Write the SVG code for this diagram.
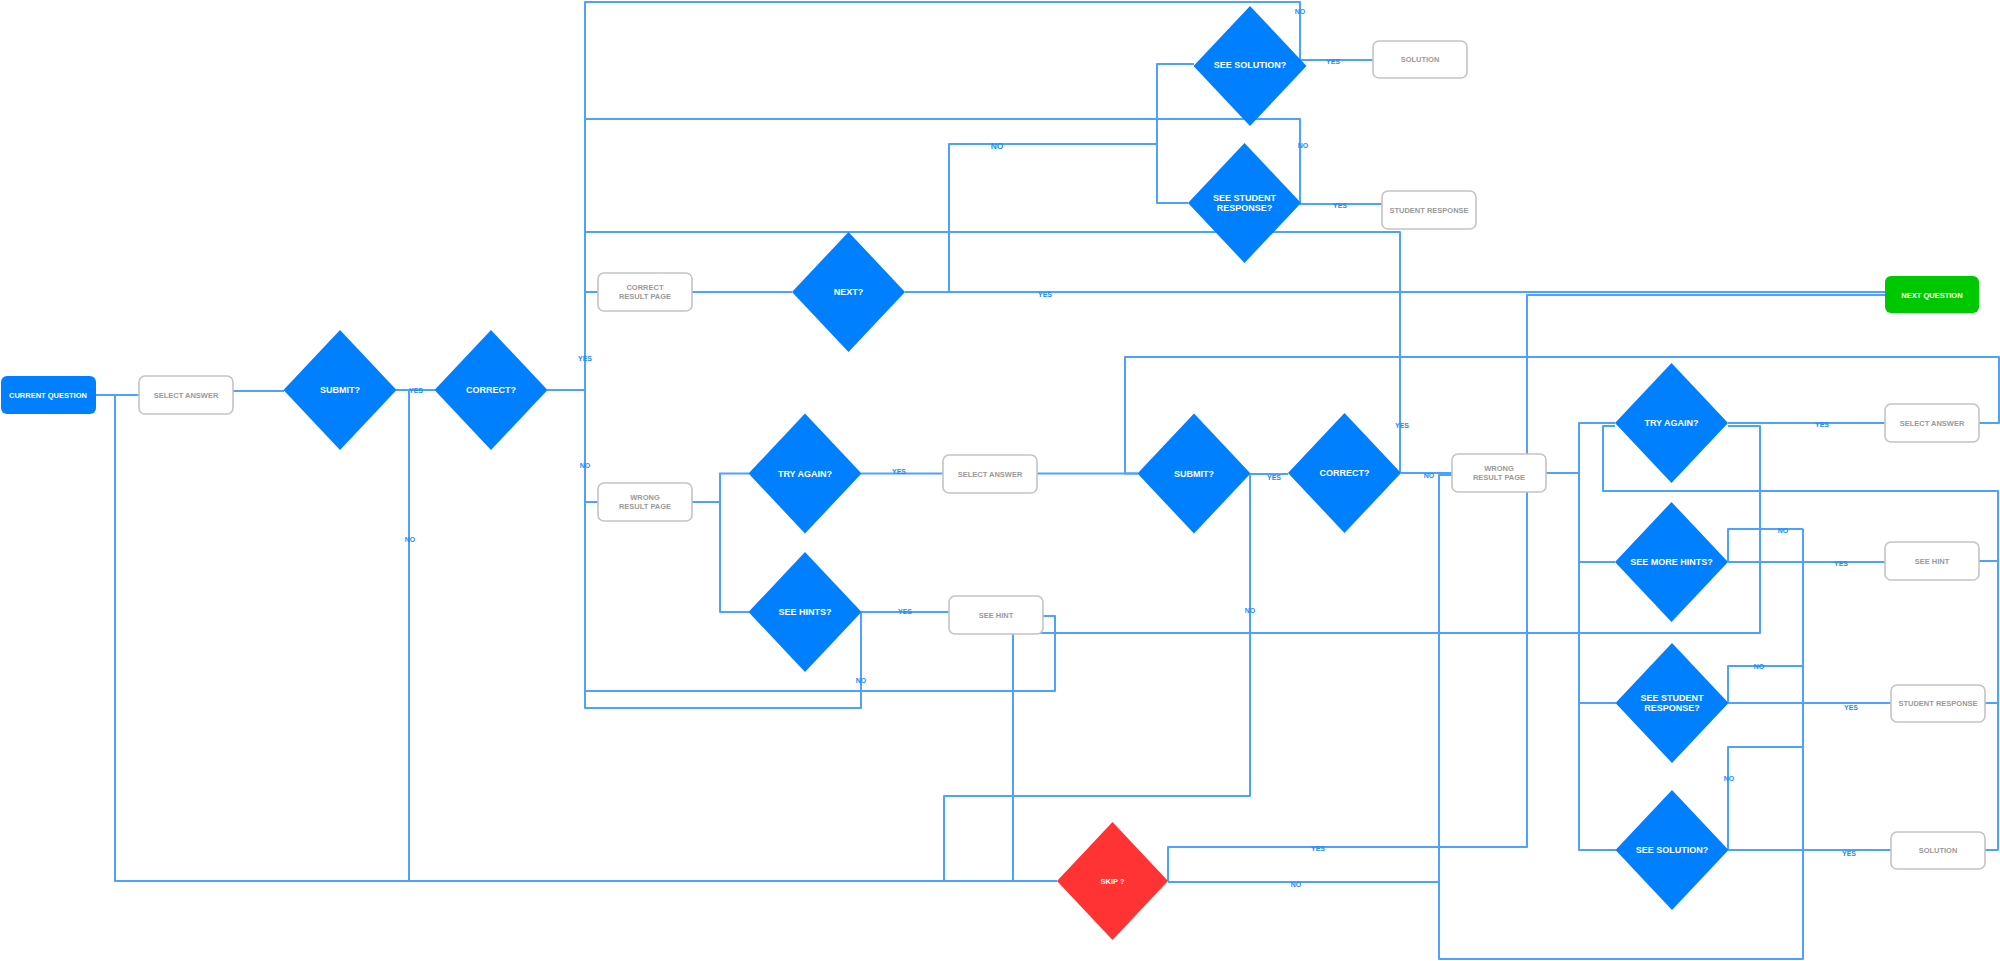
<svg xmlns="http://www.w3.org/2000/svg" width="2000" height="961" viewBox="0 0 2000 961">
<style>
.ln{fill:none;stroke:#4ea2ff;stroke-width:2;stroke-linejoin:round}
.dia{fill:#0080ff}
.box{fill:#fff;stroke:#c4c4c4;stroke-width:1.6}
.bt{font-family:"Liberation Sans",Arial,sans-serif;font-weight:bold;font-size:7.5px;fill:#9a9a9a;text-anchor:middle;dominant-baseline:central}
.wt{font-family:"Liberation Sans",Arial,sans-serif;font-weight:bold;font-size:7.5px;fill:#fff;text-anchor:middle;dominant-baseline:central}
.dt{font-family:"Liberation Sans",Arial,sans-serif;font-weight:bold;font-size:9px;fill:#fff;text-anchor:middle;dominant-baseline:central}
.lb{font-family:"Liberation Sans",Arial,sans-serif;font-weight:bold;font-size:7px;fill:#1a8cff;text-anchor:middle;dominant-baseline:central}
</style>
<rect width="2000" height="961" fill="#fff"/>
<g id="connectors">
<path class="ln" d="M96 395 H139"/>
<path class="ln" d="M96 395 H115 V881 H1057"/>
<path class="ln" d="M233 391 H284"/>
<path class="ln" d="M396 390 H435"/>
<path class="ln" d="M396 390 H409 V881"/>
<path class="ln" d="M547 390 H585 V292 H598"/>
<path class="ln" d="M547 390 H585 V502 H598"/>
<path class="ln" d="M692 292 H792"/>
<path class="ln" d="M905 292 H1885"/>
<path class="ln" d="M905 292 H949 V144 H1157 V64 H1194 M1157 144 V203 H1188"/>
<path class="ln" d="M1300 60 H1373"/>
<path class="ln" d="M1300 60 V2 H585 V292"/>
<path class="ln" d="M1300 204 H1382"/>
<path class="ln" d="M1300 204 V119 H585"/>
<path class="ln" d="M1400 473 V232 H585"/>
<path class="ln" d="M1168 881 V847 H1527 V295 H1885"/>
<path class="ln" d="M1168 882 H1439"/>
<path class="ln" d="M1803 529 V959 H1439 V475 H1452"/>
<path class="ln" d="M692 502 H720 V473.5 H749 M720 502 V612 H749"/>
<path class="ln" d="M861 473.5 H943"/>
<path class="ln" d="M1037 473.5 H1138"/>
<path class="ln" d="M1250 474 H1288"/>
<path class="ln" d="M1250 474 V796 H944 V881"/>
<path class="ln" d="M861 612 H949"/>
<path class="ln" d="M1043 616 H1055 V691 H585 V502"/>
<path class="ln" d="M861 612 V708 H585 V691"/>
<path class="ln" d="M1401 473 H1452"/>
<path class="ln" d="M1546 473 H1579 V423 H1615 M1579 473 V850 H1616 M1579 562 H1615 M1579 703 H1616"/>
<path class="ln" d="M1728 423 H1885"/>
<path class="ln" d="M1979 423 H1999 V357 H1125 V473.5 H1138"/>
<path class="ln" d="M1728 562 H1885"/>
<path class="ln" d="M1979 561 H1998 V491 H1603 V426 H1615"/>
<path class="ln" d="M1985 703 H1998 M1985 850 H1998 V561"/>
<path class="ln" d="M1728 426 H1760 V633 H1013 V881"/>
<path class="ln" d="M1728 562 V529 H1803"/>
<path class="ln" d="M1728 703 V666 H1803"/>
<path class="ln" d="M1728 850 V747 H1803"/>
<path class="ln" d="M1728 703 H1891"/>
<path class="ln" d="M1728 850 H1891"/>
<text class="lb" x="416" y="390">YES</text>
<text class="lb" x="410" y="539">NO</text>
<text class="lb" x="585" y="358">YES</text>
<text class="lb" x="585" y="465">NO</text>
<text class="lb" x="1045" y="294">YES</text>
<text class="lb" x="997" y="146" style="font-size:8.5px">NO</text>
<text class="lb" x="1300" y="11">NO</text>
<text class="lb" x="1333" y="61">YES</text>
<text class="lb" x="1303" y="145">NO</text>
<text class="lb" x="1340" y="205">YES</text>
<text class="lb" x="1402" y="425">YES</text>
<text class="lb" x="1429" y="475">NO</text>
<text class="lb" x="899" y="471">YES</text>
<text class="lb" x="1274" y="477">YES</text>
<text class="lb" x="1250" y="610">NO</text>
<text class="lb" x="905" y="611">YES</text>
<text class="lb" x="861" y="680">NO</text>
<text class="lb" x="1318" y="848">YES</text>
<text class="lb" x="1296" y="884">NO</text>
<text class="lb" x="1822" y="424">YES</text>
<text class="lb" x="1841" y="563">YES</text>
<text class="lb" x="1783" y="530">NO</text>
<text class="lb" x="1851" y="707">YES</text>
<text class="lb" x="1759" y="666">NO</text>
<text class="lb" x="1729" y="778">NO</text>
<text class="lb" x="1849" y="853">YES</text>
</g>
<g id="current-question"><rect x="1" y="376" width="95" height="38" rx="6" fill="#0080ff"/><text class="wt" x="48" y="395">CURRENT QUESTION</text></g>
<g id="select-answer-1"><rect class="box" x="139" y="376" width="94" height="38" rx="6"/><text class="bt" x="186" y="395">SELECT ANSWER</text></g>
<g id="submit-1"><polygon class="dia" points="340,330 396.5,390 340,450 283.5,390"/><text class="dt" x="340" y="390">SUBMIT?</text></g>
<g id="correct-1"><polygon class="dia" points="491,330 547.5,390 491,450 434.5,390"/><text class="dt" x="491" y="390">CORRECT?</text></g>
<g id="correct-result-page"><rect class="box" x="598" y="273" width="94" height="38" rx="6"/><text class="bt" x="645" y="287">CORRECT</text><text class="bt" x="645" y="296">RESULT PAGE</text></g>
<g id="next"><polygon class="dia" points="848.5,232 905,292 848.5,352 792,292"/><text class="dt" x="848.5" y="292">NEXT?</text></g>
<g id="see-solution-1"><polygon class="dia" points="1250,6 1306.5,66 1250,126 1193.5,66"/><text class="dt" x="1250" y="65">SEE SOLUTION?</text></g>
<g id="see-student-response-1"><polygon class="dia" points="1244.5,143 1301,203 1244.5,263 1188,203"/><text class="dt" x="1244.5" y="198">SEE STUDENT</text><text class="dt" x="1244.5" y="208">RESPONSE?</text></g>
<g id="solution-1"><rect class="box" x="1373" y="41" width="94" height="37" rx="6"/><text class="bt" x="1420" y="59">SOLUTION</text></g>
<g id="student-response-1"><rect class="box" x="1382" y="191" width="94" height="38" rx="6"/><text class="bt" x="1429" y="210">STUDENT RESPONSE</text></g>
<g id="next-question"><rect x="1885" y="276" width="94" height="37" rx="6" fill="#00c800"/><text class="wt" x="1932" y="295">NEXT QUESTION</text></g>
<g id="wrong-result-page-1"><rect class="box" x="598" y="483" width="94" height="38" rx="6"/><text class="bt" x="645" y="497">WRONG</text><text class="bt" x="645" y="506">RESULT PAGE</text></g>
<g id="try-again-1"><polygon class="dia" points="805,413.5 861.5,473.5 805,533.5 748.5,473.5"/><text class="dt" x="805" y="473.5">TRY AGAIN?</text></g>
<g id="see-hints"><polygon class="dia" points="805,552 861.5,612 805,672 748.5,612"/><text class="dt" x="805" y="612">SEE HINTS?</text></g>
<g id="select-answer-2"><rect class="box" x="943" y="455" width="94" height="38" rx="6"/><text class="bt" x="990" y="474">SELECT ANSWER</text></g>
<g id="see-hint-1"><rect class="box" x="949" y="596" width="94" height="38" rx="6"/><text class="bt" x="996" y="615">SEE HINT</text></g>
<g id="submit-2"><polygon class="dia" points="1194,413.5 1250.5,473.5 1194,533.5 1137.5,473.5"/><text class="dt" x="1194" y="473.5">SUBMIT?</text></g>
<g id="correct-2"><polygon class="dia" points="1344.5,413 1401,473 1344.5,533 1288,473"/><text class="dt" x="1344.5" y="473">CORRECT?</text></g>
<g id="wrong-result-page-2"><rect class="box" x="1452" y="454" width="94" height="38" rx="6"/><text class="bt" x="1499" y="468">WRONG</text><text class="bt" x="1499" y="477">RESULT PAGE</text></g>
<g id="try-again-2"><polygon class="dia" points="1671.5,363 1728,423 1671.5,483 1615,423"/><text class="dt" x="1671.5" y="423">TRY AGAIN?</text></g>
<g id="see-more-hints"><polygon class="dia" points="1671.5,502 1728,562 1671.5,622 1615,562"/><text class="dt" x="1671.5" y="562">SEE MORE HINTS?</text></g>
<g id="see-student-response-2"><polygon class="dia" points="1672,643 1728.5,703 1672,763 1615.5,703"/><text class="dt" x="1672" y="698">SEE STUDENT</text><text class="dt" x="1672" y="708">RESPONSE?</text></g>
<g id="see-solution-2"><polygon class="dia" points="1672,790 1728.5,850 1672,910 1615.5,850"/><text class="dt" x="1672" y="850">SEE SOLUTION?</text></g>
<g id="select-answer-3"><rect class="box" x="1885" y="404" width="94" height="38" rx="6"/><text class="bt" x="1932" y="423">SELECT ANSWER</text></g>
<g id="see-hint-2"><rect class="box" x="1885" y="542" width="94" height="38" rx="6"/><text class="bt" x="1932" y="561">SEE HINT</text></g>
<g id="student-response-2"><rect class="box" x="1891" y="685" width="94" height="37" rx="6"/><text class="bt" x="1938" y="703">STUDENT RESPONSE</text></g>
<g id="solution-2"><rect class="box" x="1891" y="832" width="94" height="37" rx="6"/><text class="bt" x="1938" y="850">SOLUTION</text></g>
<g id="skip"><polygon points="1112.5,822 1168,881 1112.5,940 1057,881" fill="#ff3333"/><text class="wt" x="1112.5" y="881">SKIP ?</text></g>
</svg>
